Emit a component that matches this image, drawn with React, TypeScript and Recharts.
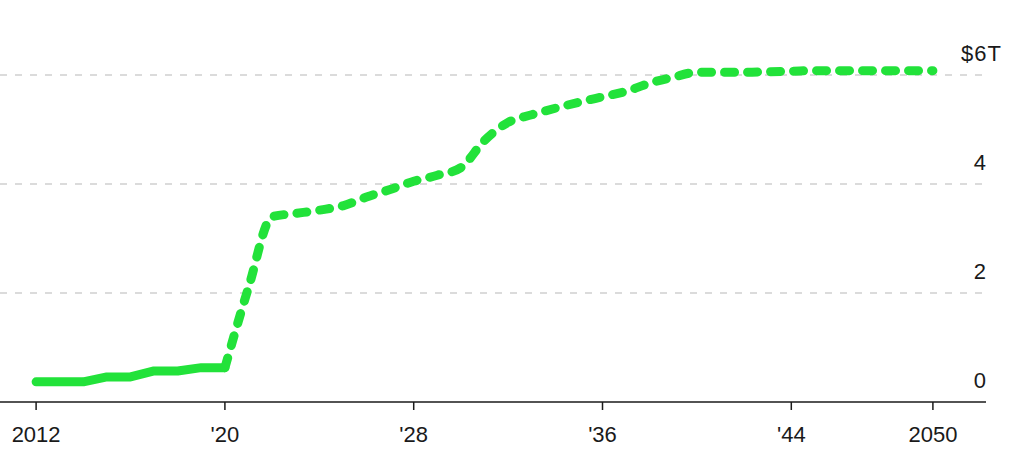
import React from "react";
import { LineChart, Line, XAxis, YAxis, CartesianGrid } from "recharts";

const years = [2012, 2013, 2014, 2015, 2016, 2017, 2018, 2019, 2020, 2021, 2022, 2023, 2024, 2025, 2026, 2027, 2028, 2029, 2030, 2031, 2032, 2033, 2034, 2035, 2036, 2037, 2038, 2039, 2040, 2041, 2042, 2043, 2044, 2045, 2046, 2047, 2048, 2049, 2050];
const actual = [0.37, 0.37, 0.37, 0.46, 0.46, 0.57, 0.57, 0.63, 0.63];
const forecast = [0.63, 2.1, 3.4, 3.46, 3.52, 3.6, 3.76, 3.9, 4.05, 4.16, 4.3, 4.8, 5.13, 5.27, 5.39, 5.5, 5.6, 5.7, 5.85, 5.96, 6.05, 6.05, 6.05, 6.06, 6.07, 6.08, 6.08, 6.08, 6.08, 6.08, 6.08];
const forecastStart = 2020;
const xTicks = [2012, 2020, 2028, 2036, 2044, 2050];
const yTicks = [0, 2, 4, 6];
const gridValues = [2, 4, 6];

const data = years.map((yr, i) => ({
  year: yr,
  actual: i < actual.length ? actual[i] : null,
  forecast: yr >= forecastStart ? forecast[yr - forecastStart] : null,
}));

const GREEN = "#22e23a";
const FONT = "'Liberation Sans', Arial, Helvetica, sans-serif";

const fmtX = (v: number) => (v === 2012 || v === 2050 ? String(v) : "'" + String(v).slice(2));

const YTick = (props: any) => {
  const { x, y, payload } = props;
  const v = payload.value;
  if (v === 6) {
    return (
      <text x={x - 25} y={y - 14} textAnchor="start" fontSize={22} fill="#1a1a1a" fontFamily={FONT} letterSpacing={1}>
        $6T
      </text>
    );
  }
  return (
    <text x={x} y={y - 14} textAnchor="end" fontSize={22} fill="#1a1a1a" fontFamily={FONT}>
      {String(v)}
    </text>
  );
};

export default function App() {
  return (
    <div style={{ position: "absolute", left: 0, top: 0, background: "#fff" }}>
      <LineChart width={1024} height={461} data={data} margin={{ top: 20.5, right: 0, bottom: 0, left: 0 }}>
        <CartesianGrid vertical={false} horizontalValues={gridValues} stroke="#cfcfcf" strokeDasharray="7 8" strokeWidth={1.5} />
        <XAxis
          dataKey="year"
          type="number"
          domain={[2010.47, 2052.25]}
          ticks={xTicks}
          tickFormatter={fmtX}
          height={59}
          axisLine={{ stroke: "#1a1a1a", strokeWidth: 1.5 }}
          tickLine={{ stroke: "#1a1a1a", strokeWidth: 1.5 }}
          tickSize={8}
          tickMargin={16}
          tick={{ fontSize: 22, fill: "#1a1a1a", fontFamily: FONT }}
          allowDataOverflow
        />
        <YAxis
          orientation="right"
          domain={[0, 7]}
          ticks={yTicks}
          width={38}
          axisLine={false}
          tickLine={false}
          tickSize={0}
          tickMargin={0}
          tick={<YTick />}
        />
        <Line
          dataKey="actual"
          stroke={GREEN}
          strokeWidth={9}
          strokeLinecap="round"
          strokeLinejoin="round"
          dot={false}
          activeDot={false}
          connectNulls={false}
          isAnimationActive={false}
          type="linear"
        />
        <Line
          dataKey="forecast"
          stroke={GREEN}
          strokeWidth={9}
          strokeLinecap="round"
          strokeLinejoin="round"
          strokeDasharray="10 13"
          dot={false}
          activeDot={false}
          connectNulls={false}
          isAnimationActive={false}
          type="monotone"
        />
      </LineChart>
    </div>
  );
}
